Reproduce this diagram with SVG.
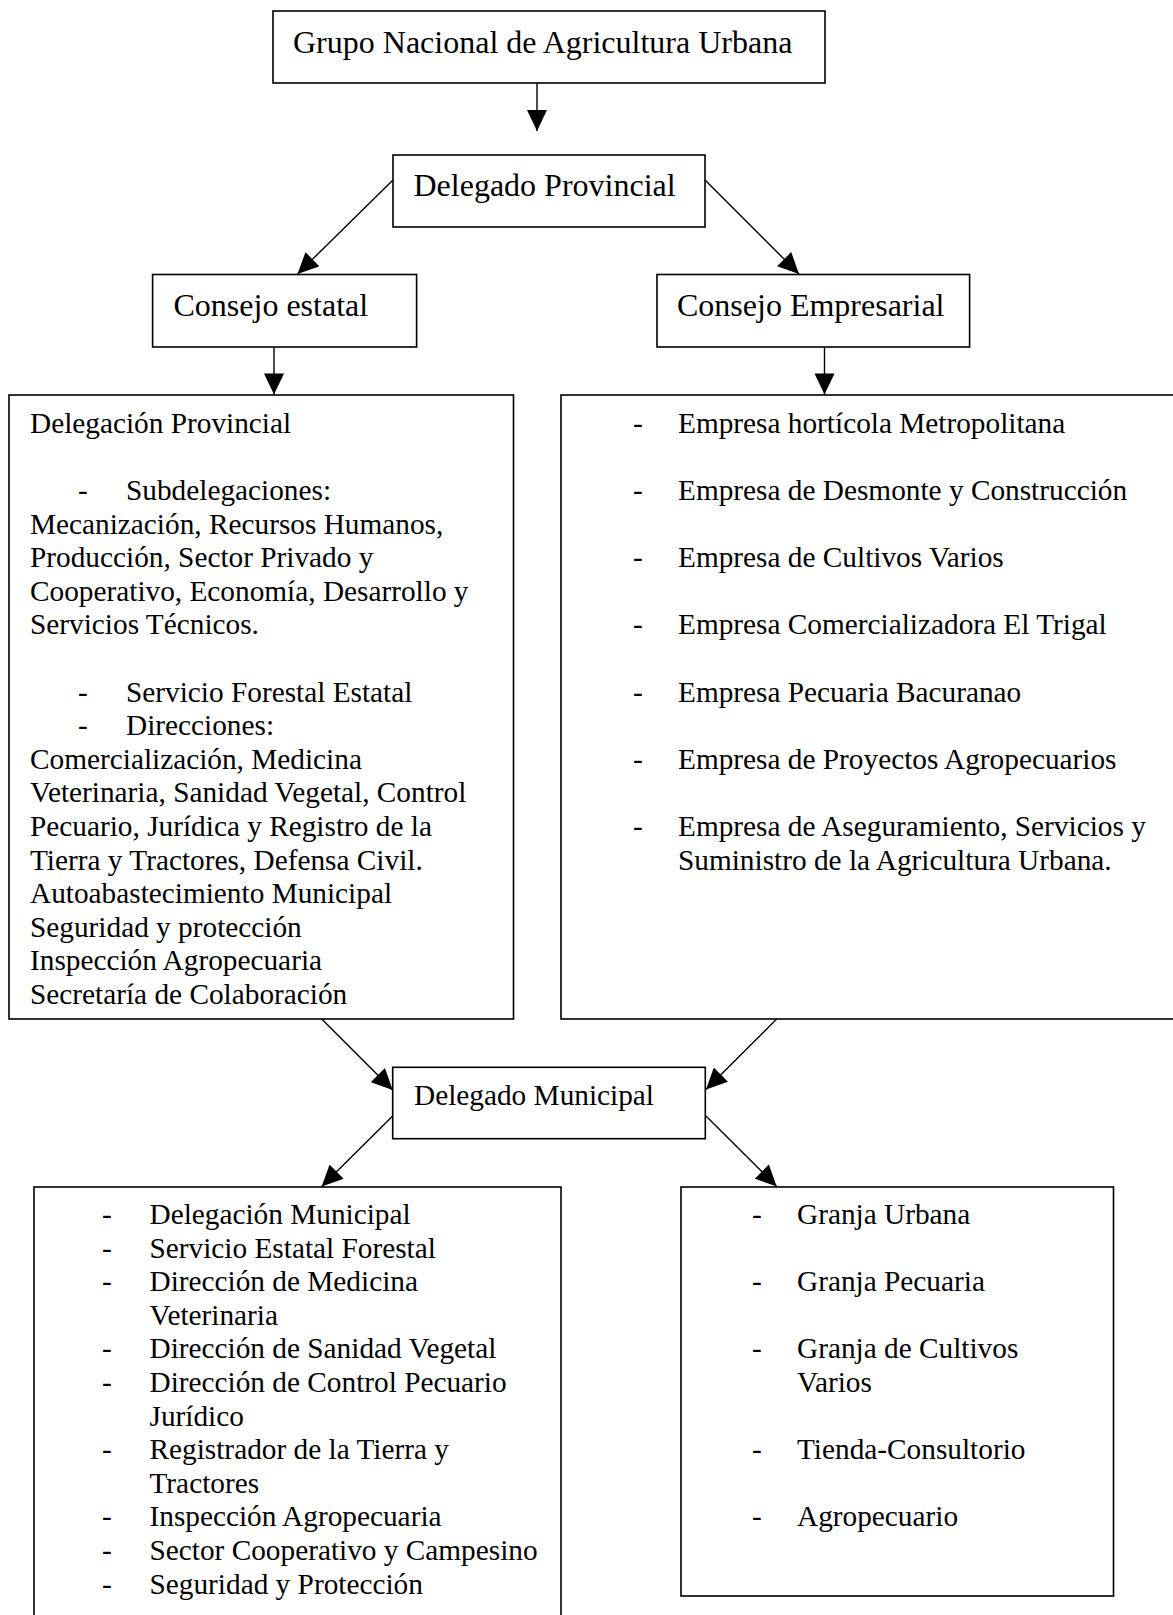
<svg xmlns="http://www.w3.org/2000/svg" width="1173" height="1615" viewBox="0 0 1173 1615">
<style>
.box{fill:#fff;stroke:#000;stroke-width:1.6}
.t{font-family:"Liberation Serif","Times New Roman",serif;fill:#000}
.big{font-size:32px}
.n{font-size:29.3px}
.c{stroke:#000;stroke-width:1.4;fill:none;marker-end:url(#ah)}
</style>
<defs>
<marker id="ah" markerUnits="userSpaceOnUse" markerWidth="22" markerHeight="20" viewBox="0 0 21 20" refX="21" refY="10" orient="auto">
<path d="M0,0 L21,10 L0,20 z" fill="#000"/>
</marker>
</defs>
<rect width="1173" height="1615" fill="#fff"/>
<g id="connectors">
<line class="c" x1="537" y1="83" x2="537" y2="131"/>
<line class="c" x1="393" y1="180" x2="297.5" y2="274"/>
<line class="c" x1="705" y1="180" x2="799" y2="274"/>
<line class="c" x1="274" y1="347.5" x2="274" y2="394.5"/>
<line class="c" x1="824.5" y1="347.5" x2="824.5" y2="394.5"/>
<line class="c" x1="321.7" y1="1019" x2="392.7" y2="1090"/>
<line class="c" x1="776.7" y1="1019" x2="706" y2="1089.5"/>
<line class="c" x1="392.7" y1="1116" x2="321.7" y2="1186.5"/>
<line class="c" x1="706" y1="1116" x2="776.7" y2="1186.5"/>
</g>
<g id="grupo">
<rect class="box" x="273" y="11" width="552" height="72"/>
<text class="t big" x="293" y="52.5">Grupo Nacional de Agricultura Urbana</text>
</g>
<g id="delegado-provincial">
<rect class="box" x="393" y="155" width="312" height="72"/>
<text class="t big" x="413.5" y="196">Delegado Provincial</text>
</g>
<g id="consejo-estatal">
<rect class="box" x="152.6" y="274.5" width="264" height="72.5"/>
<text class="t big" x="173.5" y="316">Consejo estatal</text>
</g>
<g id="consejo-empresarial">
<rect class="box" x="657" y="274.5" width="312.6" height="72.5"/>
<text class="t big" x="677" y="316">Consejo Empresarial</text>
</g>
<g id="delegacion-provincial">
<rect class="box" x="9" y="395" width="504.5" height="624"/>
<g class="t n">
<text x="30" y="432.7">Delegación Provincial</text>
<text x="78" y="499.9">-</text><text x="126" y="499.9">Subdelegaciones:</text>
<text x="30" y="533.5">Mecanización, Recursos Humanos,</text>
<text x="30" y="567.1">Producción, Sector Privado y</text>
<text x="30" y="600.7">Cooperativo, Economía, Desarrollo y</text>
<text x="30" y="634.3">Servicios Técnicos.</text>
<text x="78" y="701.5">-</text><text x="126" y="701.5">Servicio Forestal Estatal</text>
<text x="78" y="735.1">-</text><text x="126" y="735.1">Direcciones:</text>
<text x="30" y="768.7">Comercialización, Medicina</text>
<text x="30" y="802.3">Veterinaria, Sanidad Vegetal, Control</text>
<text x="30" y="835.9">Pecuario, Jurídica y Registro de la</text>
<text x="30" y="869.5">Tierra y Tractores, Defensa Civil.</text>
<text x="30" y="903.1">Autoabastecimiento Municipal</text>
<text x="30" y="936.7">Seguridad y protección</text>
<text x="30" y="970.3">Inspección Agropecuaria</text>
<text x="30" y="1003.9">Secretaría de Colaboración</text>
</g>
</g>
<g id="empresas">
<rect class="box" x="561" y="395" width="630" height="624"/>
<g class="t n">
<text x="633" y="432.7">-</text><text x="678" y="432.7">Empresa hortícola Metropolitana</text>
<text x="633" y="499.9">-</text><text x="678" y="499.9">Empresa de Desmonte y Construcción</text>
<text x="633" y="567.1">-</text><text x="678" y="567.1">Empresa de Cultivos Varios</text>
<text x="633" y="634.3">-</text><text x="678" y="634.3">Empresa Comercializadora El Trigal</text>
<text x="633" y="701.5">-</text><text x="678" y="701.5">Empresa Pecuaria Bacuranao</text>
<text x="633" y="768.7">-</text><text x="678" y="768.7">Empresa de Proyectos Agropecuarios</text>
<text x="633" y="835.9">-</text><text x="678" y="835.9">Empresa de Aseguramiento, Servicios y</text>
<text x="678" y="869.5">Suministro de la Agricultura Urbana.</text>
</g>
</g>
<g id="delegado-municipal">
<rect class="box" x="392.7" y="1067.3" width="312.6" height="71.4"/>
<text class="t n" x="414" y="1105">Delegado Municipal</text>
</g>
<g id="delegacion-municipal">
<rect class="box" x="34" y="1187" width="527" height="450"/>
<g class="t n">
<text x="102" y="1224">-</text><text x="149.5" y="1224">Delegación Municipal</text>
<text x="102" y="1257.6">-</text><text x="149.5" y="1257.6">Servicio Estatal Forestal</text>
<text x="102" y="1291.2">-</text><text x="149.5" y="1291.2">Dirección de Medicina</text>
<text x="149.5" y="1324.8">Veterinaria</text>
<text x="102" y="1358.4">-</text><text x="149.5" y="1358.4">Dirección de Sanidad Vegetal</text>
<text x="102" y="1392">-</text><text x="149.5" y="1392">Dirección de Control Pecuario</text>
<text x="149.5" y="1425.6">Jurídico</text>
<text x="102" y="1459.2">-</text><text x="149.5" y="1459.2">Registrador de la Tierra y</text>
<text x="149.5" y="1492.8">Tractores</text>
<text x="102" y="1526.4">-</text><text x="149.5" y="1526.4">Inspección Agropecuaria</text>
<text x="102" y="1560">-</text><text x="149.5" y="1560">Sector Cooperativo y Campesino</text>
<text x="102" y="1593.6">-</text><text x="149.5" y="1593.6">Seguridad y Protección</text>
</g>
</g>
<g id="granjas">
<rect class="box" x="681" y="1187" width="432.5" height="409"/>
<g class="t n">
<text x="752" y="1224">-</text><text x="797" y="1224">Granja Urbana</text>
<text x="752" y="1291.2">-</text><text x="797" y="1291.2">Granja Pecuaria</text>
<text x="752" y="1358.4">-</text><text x="797" y="1358.4">Granja de Cultivos</text>
<text x="797" y="1392">Varios</text>
<text x="752" y="1459.2">-</text><text x="797" y="1459.2">Tienda-Consultorio</text>
<text x="752" y="1526.4">-</text><text x="797" y="1526.4">Agropecuario</text>
</g>
</g>
</svg>
